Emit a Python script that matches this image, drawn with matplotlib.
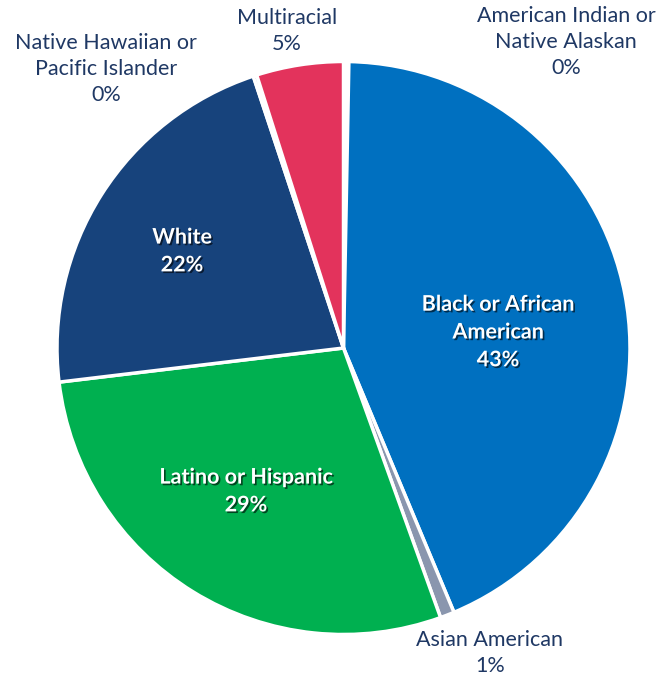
import matplotlib
matplotlib.use('Agg')
import matplotlib.pyplot as plt
import matplotlib.patheffects as pe

# data (clockwise from 12 o'clock)
groups = ['American Indian or\nNative Alaskan', 'Black or African\nAmerican', 'Asian American',
          'Latino or Hispanic', 'White', 'Native Hawaiian or\nPacific Islander', 'Multiracial']
shares = [0.3, 43.4, 0.8, 28.6, 21.8, 0.2, 4.9]
colors = ['#FFFFFF', '#0070C0', '#8A96AE', '#00B050', '#17437C', '#1F3864', '#E3335C']
inside = [False, True, False, True, True, False, False]

# label centres in pixels (layout only)
label_px = [(566, 42), (498, 332), (490, 653), (246, 491), (182, 251), (106, 69), (287, 31)]

W, H = 658, 678
cx, cy, R = 343.5, 348, 286.5

plt.rcParams['font.family'] = ['Lato', 'DejaVu Sans']
fig = plt.figure(figsize=(W / 100, H / 100), dpi=100)
ax = fig.add_axes([0, 0, 1, 1])
ax.pie(shares, colors=colors, startangle=90, counterclock=False, radius=1,
       wedgeprops=dict(edgecolor='white', linewidth=2.5))
ax.set_xlim(-cx / R, (W - cx) / R)
ax.set_ylim((cy - H) / R, cy / R)
ax.set_aspect('equal')
ax.axis('off')

shadow = [pe.withSimplePatchShadow(offset=(1.2, -1.2), shadow_rgbFace='black', alpha=0.6)]
for name, v, ins, (px, py) in zip(groups, shares, inside, label_px):
    txt = '%s\n%d%%' % (name, round(v))
    x = (px - cx) / R
    y = (cy - py) / R
    if ins:
        ax.text(x, y, txt, ha='center', va='center', color='white', fontsize=15.5,
                fontweight='bold', linespacing=1.4, path_effects=shadow)
    else:
        ax.text(x, y, txt, ha='center', va='center', color='#1F3864', fontsize=15.5,
                linespacing=1.4)

fig.savefig('out.png', dpi=100)
